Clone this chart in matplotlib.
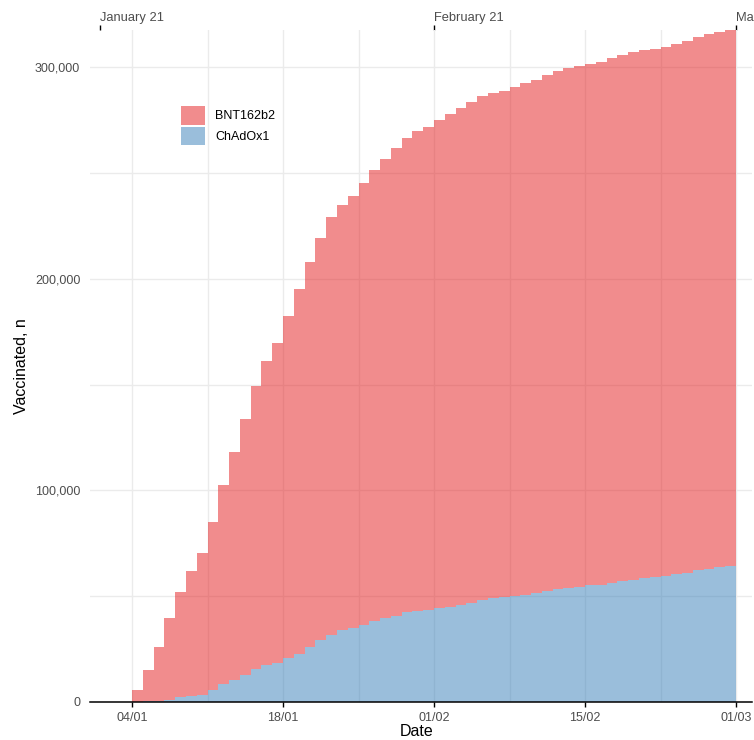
import numpy as np
import pandas as pd
import matplotlib
matplotlib.use("Agg")
import matplotlib.pyplot as plt
import matplotlib.dates as mdates
from matplotlib.patches import Patch

plt.rcParams['font.family'] = ['Liberation Sans', 'DejaVu Sans']

# ---- data (cumulative vaccinated per day) ----
dates = pd.date_range('2021-01-04', '2021-02-28', freq='D')
series_names = ['BNT162b2', 'ChAdOx1']
bnt162b2 = [5300, 14700, 25600, 38400, 49600, 59200, 67000, 79300, 94100, 107500,
            120600, 133700, 143900, 151500, 162000, 172700, 182100, 190200, 197300, 201100,
            204300, 208800, 213100, 217000, 221000, 224100, 226600, 228200, 230500, 233000,
            234800, 236800, 238100, 238700, 239300, 240400, 242000, 242600, 244000, 244900,
            245600, 246000, 246500, 247100, 248100, 248700, 249300, 249500, 249500, 249900,
            250800, 251300, 252200, 252700, 253000, 253300]
chadox1 = [200, 300, 600, 1100, 2200, 2800, 3500, 5900, 8400, 10600,
           13000, 15500, 17400, 18400, 20600, 22500, 25900, 29100, 31800, 33900,
           34800, 36400, 38300, 39600, 40800, 42400, 43200, 43500, 44500, 44900,
           45900, 46800, 48300, 49100, 49500, 50300, 50600, 51400, 52400, 53300,
           54100, 54600, 55100, 55400, 56300, 57100, 57900, 58700, 59200, 59700,
           60300, 61200, 62200, 63100, 63800, 64400]
bottom_tick_dates = pd.date_range('2021-01-04', '2021-03-01', freq='14D')
grid_dates = pd.date_range('2021-01-04', '2021-03-01', freq='7D')
top_tick_dates = pd.to_datetime(['2021-01-01', '2021-02-01', '2021-03-01'])
top_tick_labels = ['January 21', 'February 21', 'March 21']
y_ticks = [0, 100000, 200000, 300000]
y_minor = [50000, 150000, 250000]

red = (228/255, 26/255, 28/255, 0.5)
blue = (55/255, 126/255, 184/255, 0.5)

W, H = 754, 740
fig = plt.figure(figsize=(W/100, H/100), dpi=100)
ax = fig.add_axes([90/W, (H-702)/H, (752-90)/W, (702-30)/H])

x = mdates.date2num(dates)
bnt = np.array(bnt162b2)
chad = np.array(chadox1)
ax.bar(x, chad, width=1.0, align='edge', bottom=0, color=blue, linewidth=0, zorder=2)
ax.bar(x, bnt, width=1.0, align='edge', bottom=chad, color=red, linewidth=0, zorder=2)

x0 = mdates.date2num(pd.Timestamp('2021-01-04'))
ax.set_xlim(x0 - 3.894, x0 + 57.48)
ax.set_ylim(0, (bnt + chad).max())

ax.set_axisbelow(True)
for s in ['left', 'right', 'top']:
    ax.spines[s].set_visible(False)
ax.spines['bottom'].set_color('black')
ax.spines['bottom'].set_linewidth(1.1)

ax.set_xticks(mdates.date2num(bottom_tick_dates))
ax.set_xticklabels([d.strftime('%d/%m') for d in bottom_tick_dates])
ax.set_xticks(mdates.date2num(grid_dates), minor=True)
ax.set_yticks(y_ticks)
ax.set_yticklabels([f"{v:,}" for v in y_ticks])
ax.set_yticks(y_minor, minor=True)

ax.tick_params(axis='x', which='major', length=3.5, width=1, color='black',
               labelsize=9, labelcolor='#4D4D4D', pad=3.5)
ax.tick_params(axis='x', which='minor', length=0)
ax.tick_params(axis='y', which='both', length=0, labelsize=9, labelcolor='#4D4D4D', pad=7)

ax.grid(True, which='both', axis='both', color='#EBEBEB', linewidth=1.0, zorder=0)

sec = ax.secondary_xaxis('top')
sec.set_xticks(mdates.date2num(top_tick_dates))
sec.set_xticklabels(top_tick_labels, ha='left')
sec.tick_params(axis='x', length=3.5, width=1, color='black', labelsize=9.3,
                labelcolor='#4D4D4D', pad=0.5)
sec.spines['top'].set_visible(False)

ax.set_xlabel('Date', fontsize=11.5, color='black')
ax.xaxis.set_label_coords((417-90)/662, (702-724)/672)
fig.text(22/W, 1 - 366/H, 'Vaccinated, n', rotation=90, ha='center', va='center',
         fontsize=11.5, color='black')

handles = [Patch(facecolor=red, edgecolor='none', label=series_names[0]),
           Patch(facecolor=blue, edgecolor='none', label=series_names[1])]
ax.legend(handles=handles, loc='upper left', bbox_to_anchor=(181/W, 1 - 106/H),
          bbox_transform=fig.transFigure, frameon=False, fontsize=9,
          handlelength=1.92, handleheight=1.92, labelspacing=0.16,
          handletextpad=0.8, borderpad=0, borderaxespad=0)

fig.savefig('out.png', dpi=100)
